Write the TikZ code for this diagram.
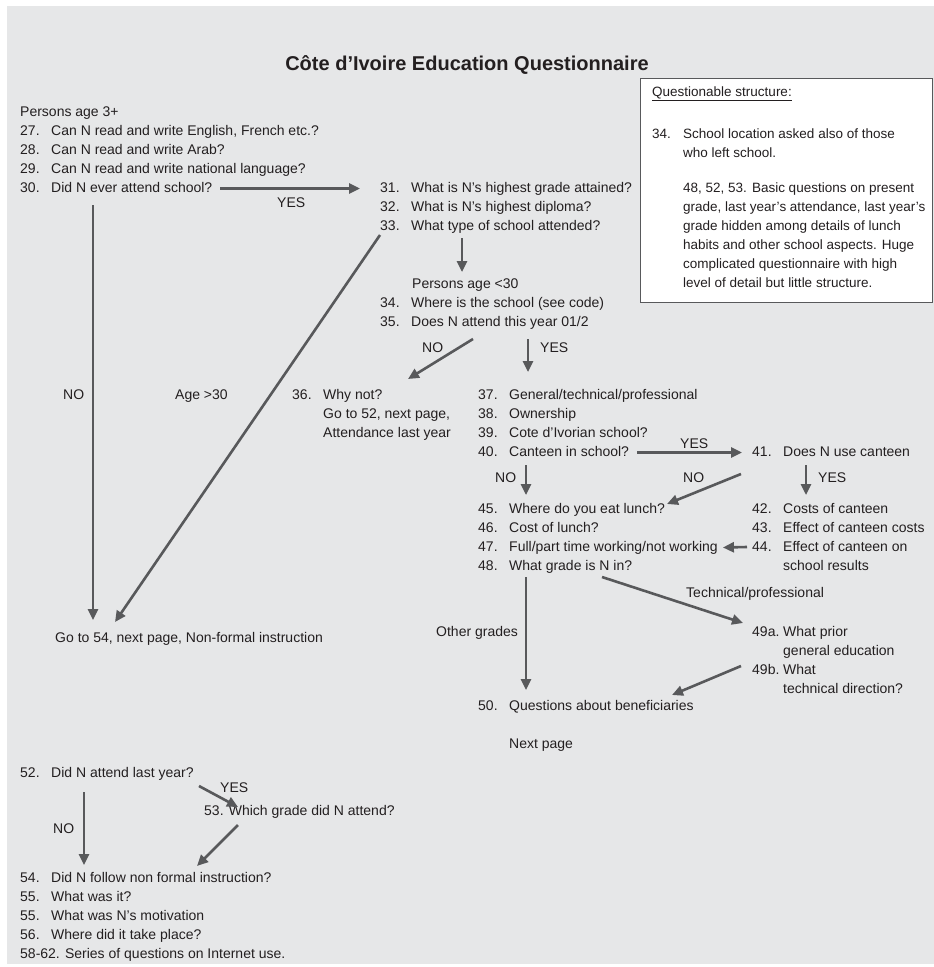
\documentclass[tikz,border=0pt]{standalone}
\usepackage{fontspec}
\setmainfont{Liberation Sans}
\usetikzlibrary{arrows.meta,calc}
\definecolor{panel}{HTML}{E6E7E8}
\definecolor{ink}{HTML}{231F20}
\definecolor{arrowgray}{HTML}{58595B}
\definecolor{boxline}{HTML}{58595B}
\newcommand\qnum[1]{\makebox[31pt][l]{#1}}

\begin{document}
\begin{tikzpicture}[x=1pt,y=-1pt,
  txt/.style={anchor=base west,inner sep=0pt,text height=10pt,text depth=3pt,
    font=\fontsize{14}{19}\selectfont,text=ink},
  notetxt/.style={txt,font=\fontsize{13.5}{19}\selectfont},
  arr/.style={draw=arrowgray,line width=2.6pt,-{Triangle[length=11pt,width=10pt]}},
  ]
\useasboundingbox (0,0) rectangle (934,967);
\fill[panel] (7,6) rectangle (934,964);

% title
\node[anchor=base,inner sep=0pt,text=ink,font=\fontsize{20}{24}\selectfont\bfseries]
  (title) at (467,70) {Côte d’Ivoire Education Questionnaire};

% note box
\node[draw=boxline,fill=white,line width=1.3pt,minimum width=292pt,minimum height=224pt,
  anchor=north west,inner sep=0pt] (notebox) at (640,78) {};
\node[notetxt] (nhead) at (652,96) {\underline{Questionable structure:}};
\node[notetxt] (n34a) at (652,138) {\qnum{34.}School location asked also of those};
\node[notetxt] (n34b) at (683,157) {who left school.};
\node[notetxt] (n48a) at (683,192) {48, 52, 53. Basic questions on present};
\node[notetxt] (n48b) at (683,211) {grade, last year’s attendance, last year’s};
\node[notetxt] (n48c) at (683,230) {grade hidden among details of lunch};
\node[notetxt] (n48d) at (683,249) {habits and other school aspects. Huge};
\node[notetxt] (n48e) at (683,268) {complicated questionnaire with high};
\node[notetxt] (n48f) at (683,287) {level of detail but little structure.};

% persons age 3+
\node[txt] (p3)  at (20,116) {Persons age 3+};
\node[txt] (q27) at (20,135) {\qnum{27.}Can N read and write English, French etc.?};
\node[txt] (q28) at (20,154) {\qnum{28.}Can N read and write Arab?};
\node[txt] (q29) at (20,173) {\qnum{29.}Can N read and write national language?};
\node[txt] (q30) at (20,192) {\qnum{30.}Did N ever attend school?};

\node[txt] (q31) at (380,192) {\qnum{31.}What is N’s highest grade attained?};
\node[txt] (q32) at (380,211) {\qnum{32.}What is N’s highest diploma?};
\node[txt] (q33) at (380,230) {\qnum{33.}What type of school attended?};

\node[txt] (p30) at (412,288) {Persons age <30};
\node[txt] (q34) at (380,307) {\qnum{34.}Where is the school (see code)};
\node[txt] (q35) at (380,326) {\qnum{35.}Does N attend this year 01/2};

\node[txt] (q36)  at (292,399) {\qnum{36.}Why not?};
\node[txt] (q36b) at (323,418) {Go to 52, next page,};
\node[txt] (q36c) at (323,437) {Attendance last year};

\node[txt] (q37) at (478,399) {\qnum{37.}General/technical/professional};
\node[txt] (q38) at (478,418) {\qnum{38.}Ownership};
\node[txt] (q39) at (478,437) {\qnum{39.}Cote d’Ivorian school?};
\node[txt] (q40) at (478,456) {\qnum{40.}Canteen in school?};

\node[txt] (q41) at (752,456) {\qnum{41.}Does N use canteen};

\node[txt] (q45) at (478,513) {\qnum{45.}Where do you eat lunch?};
\node[txt] (q46) at (478,532) {\qnum{46.}Cost of lunch?};
\node[txt] (q47) at (478,551) {\qnum{47.}Full/part time working/not working};
\node[txt] (q48) at (478,570) {\qnum{48.}What grade is N in?};

\node[txt] (q42)  at (752,513) {\qnum{42.}Costs of canteen};
\node[txt] (q43)  at (752,532) {\qnum{43.}Effect of canteen costs};
\node[txt] (q44)  at (752,551) {\qnum{44.}Effect of canteen on};
\node[txt] (q44b) at (783,570) {school results};

\node[txt] (q49a)  at (752,636) {\qnum{49a.}What prior};
\node[txt] (q49a2) at (783,655) {general education};
\node[txt] (q49b)  at (752,674) {\qnum{49b.}What};
\node[txt] (q49b2) at (783,693) {technical direction?};

\node[txt] (q50)  at (478,710) {\qnum{50.}Questions about beneficiaries};
\node[txt] (next) at (509,748) {Next page};

\node[txt] (go54) at (55,642) {Go to 54, next page, Non-formal instruction};

% branch labels
\node[txt] (yes30) at (277,207) {YES};
\node[txt] (no30)  at (63,399)  {NO};
\node[txt] (age30) at (175,399) {Age >30};
\node[txt] (no35)  at (422,352) {NO};
\node[txt] (yes35) at (540,352) {YES};
\node[txt] (yes40) at (680,448) {YES};
\node[txt] (no40)  at (495,482) {NO};
\node[txt] (no41)  at (683,482) {NO};
\node[txt] (yes41) at (818,482) {YES};
\node[txt] (techp) at (686,597) {Technical/professional};
\node[txt] (other) at (436,636) {Other grades};

% last-year block
\node[txt] (q52) at (20,777) {\qnum{52.}Did N attend last year?};
\node[txt] (yes52) at (220,792) {YES};
\node[txt] (q53) at (204,815) {53. Which grade did N attend?};
\node[txt] (no52) at (53,833) {NO};
\node[txt] (q54)  at (20,882) {\qnum{54.}Did N follow non formal instruction?};
\node[txt] (q55a) at (20,901) {\qnum{55.}What was it?};
\node[txt] (q55b) at (20,920) {\qnum{55.}What was N’s motivation};
\node[txt] (q56)  at (20,939) {\qnum{56.}Where did it take place?};
\node[txt] (q58)  at (20,958) {58-62. Series of questions on Internet use.};

% connectors
\draw[arr] ($(q30.east)+(8,0)$) -- ($(q30.east -| q31.base west)+(-20,0)$);
\draw[arr] ($(q30.base west)+(73,13)$) -- ($(go54.base west)+(38,-22)$);
\draw[arr] ($(q33.base west)+(0,5)$) -- ($(go54.base west)+(60,-20)$);
\draw[arr] ($(q33.base west)+(82,8)$) -- ($(p30.base west)+(50,-16)$);
\draw[arr] ($(q35.base west)+(93,13)$) -- ($(q36.base west)+(116,-20)$);
\draw[arr] ($(q35.base west)+(148,13)$) -- ($(q37.base west)+(50,-27)$);
\draw[arr] ($(q40.east)+(8,0)$) -- ($(q40.east -| q41.base west)+(-10,0)$);
\draw[arr] ($(q40.base west)+(48,9)$) -- ($(q45.base west)+(48,-18)$);
\draw[arr] ($(q41.base west)+(-11,18)$) -- ($(q45.base west)+(189,-9)$);
\draw[arr] ($(q41.base west)+(54,9)$) -- ($(q42.base west)+(54,-18)$);
\draw[arr] ($(q44.base west)+(-5,-4)$) -- ($(q47.east)+(5,0)$);
\draw[arr] ($(q48.base west)+(124,7)$) -- ($(q49a.base west)+(-9,-13)$);
\draw[arr] ($(q48.base west)+(48,7)$) -- ($(q50.base west)+(48,-20)$);
\draw[arr] ($(q49b.base west)+(-11,-8)$) -- ($(q50.base west)+(194,-15)$);
\draw[arr] ($(q52.base west)+(179,9)$) -- ($(q53.base west)+(34,-8)$);
\draw[arr] ($(q52.base west)+(64,15)$) -- ($(q54.base west)+(64,-17)$);
\draw[arr] ($(q53.base west)+(34,10)$) -- ($(q54.base west)+(177,-16)$);
\end{tikzpicture}
\end{document}
